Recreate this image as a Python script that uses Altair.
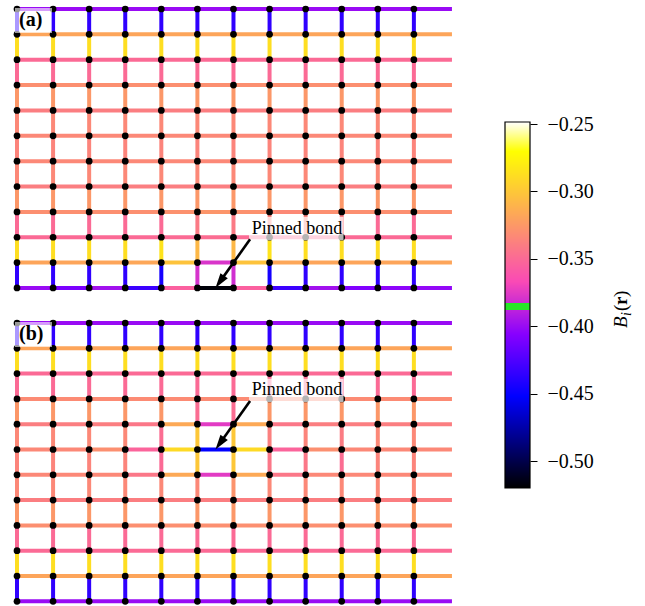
import altair as alt
import numpy as np
import pandas as pd

# ---------------------------------------------------------------------------
# Bond strengths B_i(r) on a 12 x 12 lattice (rows counted from the top).
# H[r][c]: horizontal bond from site (c, r) to (c+1, r); c = 11 wraps to column 12.
# V[r][c]: vertical bond from site (c, r) to (c, r+1).
# ---------------------------------------------------------------------------
H_A = [
    [-0.400, -0.400, -0.400, -0.400, -0.400, -0.400, -0.400, -0.400, -0.400, -0.400, -0.400, -0.400],
    [-0.318, -0.318, -0.318, -0.318, -0.318, -0.318, -0.318, -0.318, -0.318, -0.318, -0.318, -0.318],
    [-0.350, -0.350, -0.350, -0.350, -0.350, -0.350, -0.350, -0.350, -0.350, -0.350, -0.350, -0.350],
    [-0.330, -0.330, -0.330, -0.330, -0.330, -0.330, -0.330, -0.330, -0.330, -0.330, -0.330, -0.330],
    [-0.339, -0.339, -0.339, -0.339, -0.339, -0.339, -0.339, -0.339, -0.339, -0.339, -0.339, -0.339],
    [-0.334, -0.334, -0.334, -0.334, -0.334, -0.334, -0.334, -0.334, -0.334, -0.334, -0.334, -0.334],
    [-0.334, -0.334, -0.334, -0.334, -0.334, -0.334, -0.334, -0.334, -0.334, -0.334, -0.334, -0.334],
    [-0.339, -0.339, -0.339, -0.339, -0.339, -0.339, -0.339, -0.339, -0.339, -0.339, -0.339, -0.339],
    [-0.330, -0.330, -0.330, -0.330, -0.329, -0.327, -0.329, -0.333, -0.330, -0.330, -0.330, -0.330],
    [-0.350, -0.350, -0.350, -0.350, -0.349, -0.348, -0.349, -0.350, -0.350, -0.350, -0.350, -0.350],
    [-0.318, -0.318, -0.318, -0.317, -0.302, -0.378, -0.302, -0.317, -0.318, -0.318, -0.318, -0.318],
    [-0.400, -0.410, -0.397, -0.432, -0.355, -0.518, -0.355, -0.432, -0.397, -0.408, -0.404, -0.402],
]
V_A = [
    [-0.436, -0.436, -0.436, -0.436, -0.436, -0.436, -0.436, -0.436, -0.436, -0.436, -0.436, -0.436],
    [-0.288, -0.288, -0.288, -0.288, -0.288, -0.288, -0.288, -0.288, -0.288, -0.288, -0.288, -0.288],
    [-0.350, -0.350, -0.350, -0.350, -0.350, -0.350, -0.350, -0.350, -0.350, -0.350, -0.350, -0.350],
    [-0.326, -0.326, -0.326, -0.326, -0.326, -0.326, -0.326, -0.326, -0.326, -0.326, -0.326, -0.326],
    [-0.334, -0.334, -0.334, -0.334, -0.334, -0.334, -0.334, -0.334, -0.334, -0.334, -0.334, -0.334],
    [-0.336, -0.336, -0.336, -0.336, -0.336, -0.336, -0.336, -0.336, -0.336, -0.336, -0.336, -0.336],
    [-0.334, -0.334, -0.334, -0.334, -0.334, -0.334, -0.334, -0.334, -0.334, -0.334, -0.334, -0.334],
    [-0.326, -0.326, -0.326, -0.326, -0.326, -0.326, -0.326, -0.326, -0.326, -0.326, -0.326, -0.326],
    [-0.350, -0.350, -0.350, -0.350, -0.350, -0.341, -0.341, -0.337, -0.337, -0.340, -0.350, -0.350],
    [-0.288, -0.288, -0.288, -0.288, -0.285, -0.308, -0.308, -0.285, -0.288, -0.288, -0.288, -0.288],
    [-0.436, -0.436, -0.436, -0.436, -0.445, -0.379, -0.381, -0.445, -0.436, -0.436, -0.436, -0.436],
]
H_B = [
    [-0.400, -0.400, -0.400, -0.400, -0.400, -0.400, -0.400, -0.400, -0.400, -0.400, -0.400, -0.400],
    [-0.318, -0.318, -0.318, -0.318, -0.318, -0.318, -0.318, -0.318, -0.318, -0.318, -0.318, -0.318],
    [-0.350, -0.350, -0.350, -0.350, -0.350, -0.350, -0.350, -0.350, -0.350, -0.350, -0.350, -0.350],
    [-0.332, -0.332, -0.332, -0.332, -0.332, -0.332, -0.332, -0.332, -0.332, -0.332, -0.332, -0.332],
    [-0.339, -0.339, -0.339, -0.343, -0.316, -0.375, -0.316, -0.343, -0.339, -0.339, -0.339, -0.339],
    [-0.334, -0.334, -0.330, -0.353, -0.290, -0.452, -0.290, -0.353, -0.330, -0.334, -0.334, -0.334],
    [-0.334, -0.334, -0.334, -0.343, -0.316, -0.375, -0.316, -0.343, -0.334, -0.334, -0.334, -0.334],
    [-0.339, -0.339, -0.339, -0.339, -0.339, -0.339, -0.339, -0.339, -0.339, -0.339, -0.339, -0.339],
    [-0.330, -0.330, -0.330, -0.330, -0.330, -0.330, -0.330, -0.330, -0.330, -0.330, -0.330, -0.330],
    [-0.350, -0.350, -0.350, -0.350, -0.350, -0.350, -0.350, -0.350, -0.350, -0.350, -0.350, -0.350],
    [-0.318, -0.318, -0.318, -0.318, -0.318, -0.318, -0.318, -0.318, -0.318, -0.318, -0.318, -0.318],
    [-0.400, -0.400, -0.400, -0.400, -0.400, -0.400, -0.400, -0.400, -0.400, -0.400, -0.400, -0.400],
]
V_B = [
    [-0.436, -0.436, -0.436, -0.436, -0.436, -0.436, -0.436, -0.436, -0.436, -0.436, -0.436, -0.436],
    [-0.288, -0.288, -0.288, -0.288, -0.288, -0.288, -0.288, -0.288, -0.288, -0.288, -0.288, -0.288],
    [-0.350, -0.350, -0.350, -0.350, -0.350, -0.350, -0.350, -0.350, -0.350, -0.350, -0.350, -0.350],
    [-0.326, -0.326, -0.326, -0.326, -0.326, -0.348, -0.348, -0.326, -0.326, -0.326, -0.326, -0.326],
    [-0.334, -0.334, -0.334, -0.334, -0.348, -0.300, -0.300, -0.338, -0.336, -0.340, -0.334, -0.334],
    [-0.336, -0.336, -0.336, -0.336, -0.350, -0.300, -0.300, -0.343, -0.343, -0.348, -0.336, -0.336],
    [-0.334, -0.334, -0.334, -0.334, -0.334, -0.334, -0.328, -0.334, -0.334, -0.334, -0.334, -0.334],
    [-0.326, -0.326, -0.326, -0.326, -0.326, -0.326, -0.326, -0.326, -0.326, -0.326, -0.326, -0.326],
    [-0.350, -0.350, -0.350, -0.350, -0.350, -0.350, -0.350, -0.350, -0.350, -0.350, -0.350, -0.350],
    [-0.288, -0.288, -0.288, -0.288, -0.288, -0.288, -0.288, -0.288, -0.288, -0.288, -0.288, -0.288],
    [-0.436, -0.436, -0.436, -0.436, -0.436, -0.436, -0.436, -0.436, -0.436, -0.436, -0.436, -0.436],
]

PINNED_A = (5.5, 11)      # centre of the pinned bond, panel (a)
PINNED_B = (5.5, 5)       # centre of the pinned bond, panel (b)
PANEL_LABELS = ["(a)", "(b)"]
NOTE = "Pinned bond"

CBAR_TICKS = [-0.25, -0.30, -0.35, -0.40, -0.45, -0.50]
VMIN, VMAX = -0.520, -0.2485
GREEN_BAND = (-0.3880, -0.3828)   # marked level on the colour map
GREEN = "#28e628"

SERIF = "Liberation Serif, Times New Roman, Times, serif"

# ---------------------------------------------------------------------------
# gnuplot2 colour map as a piecewise-linear scale, with a green marker band
# ---------------------------------------------------------------------------
def gnuplot2(t):
    r = min(max(t / 0.32 - 0.78125, 0.0), 1.0)
    g = min(max(2 * t - 0.84, 0.0), 1.0)
    if t < 0.25:
        b = 4 * t
    elif t < 0.42:
        b = 1.0
    elif t < 0.92:
        b = -2 * t + 1.84
    else:
        b = t / 0.08 - 11.5
    b = min(max(b, 0.0), 1.0)
    return "#%02x%02x%02x" % tuple(int(round(255 * u)) for u in (r, g, b))


def to_val(t):
    return VMIN + t * (VMAX - VMIN)


def to_frac(v):
    return (v - VMIN) / (VMAX - VMIN)


t_lo, t_hi = to_frac(GREEN_BAND[0]), to_frac(GREEN_BAND[1])
cdom, crng = [], []
for t in [0.0, 0.24414, 0.25, 0.42, t_lo]:
    cdom.append(float(to_val(t)))
    crng.append(gnuplot2(t))
cdom += [GREEN_BAND[0] + 1e-5, GREEN_BAND[1] - 1e-5]
crng += [GREEN, GREEN]
for t in [t_hi, 0.56414, 0.92, 1.0]:
    cdom.append(float(to_val(t)))
    crng.append(gnuplot2(t))


def color_scale():
    return alt.Scale(domain=cdom, range=crng, interpolate="rgb")


# ---------------------------------------------------------------------------
# lattice panels
# ---------------------------------------------------------------------------
PXC = 36.08                 # pixels per lattice column
X_LEFT = 17.0               # pixel of column 0
PANEL_W = 457


def bonds_frame(H, V):
    rows = []
    for r, vals in enumerate(H):
        for c, b in enumerate(vals):
            rows.append(dict(x=c, x2=c + 1, y=r, y2=r, B=b))
    for r, vals in enumerate(V):
        for c, b in enumerate(vals):
            rows.append(dict(x=c, x2=c, y=r, y2=r + 1, B=b))
    return pd.DataFrame(rows)


def panel(H, V, pinned, label, height, pxr, y_top):
    xs = alt.Scale(domain=[-X_LEFT / PXC, (PANEL_W - X_LEFT) / PXC], nice=False, zero=False)
    ys = alt.Scale(domain=[-y_top / pxr, (height - y_top) / pxr], nice=False, zero=False,
                   reverse=True)

    bonds = alt.Chart(bonds_frame(H, V)).mark_rule(strokeWidth=4, strokeCap="square").encode(
        x=alt.X("x:Q", scale=xs, axis=None), x2="x2:Q",
        y=alt.Y("y:Q", scale=ys, axis=None), y2="y2:Q",
        color=alt.Color("B:Q", scale=color_scale(), legend=None),
    )

    sites_df = pd.DataFrame([dict(x=c, y=r) for r in range(len(H)) for c in range(len(H[0]))])
    sites = alt.Chart(sites_df).mark_circle(size=45, color="black", opacity=1).encode(
        x=alt.X("x:Q", scale=xs, axis=None), y=alt.Y("y:Q", scale=ys, axis=None))

    lab_df = pd.DataFrame({"s": [label]})
    lab_box = alt.Chart(lab_df).mark_rect(color="white", opacity=0.6).encode(
        x=alt.value(15), x2=alt.value(52), y=alt.value(8), y2=alt.value(33))
    lab_txt = alt.Chart(lab_df).mark_text(
        font=SERIF, fontWeight="bold", fontSize=20, align="left", baseline="alphabetic",
        color="black").encode(x=alt.value(19), y=alt.value(26), text="s:N")

    # annotation with an arrow pointing at the pinned bond
    px, py = pinned
    tail = (px + 0.96, py - 1.92)
    ddx, ddy = (tail[0] - px) * PXC, (tail[1] - py) * pxr
    length = float(np.hypot(ddx, ddy))
    head_back = 9.0 / length
    ann = pd.DataFrame([dict(
        tx=px + 2.26, ty=py - 2.14, s=NOTE,
        bx1=px + 0.93, bx2=px + 3.55, by1=py - 2.80, by2=py - 1.88,
        ax=tail[0], ay=tail[1],
        ex=px + (tail[0] - px) * head_back, ey=py + (tail[1] - py) * head_back,
        hx=px, hy=py,
    )])
    note_box = alt.Chart(ann).mark_rect(color="white", opacity=0.7).encode(
        x=alt.X("bx1:Q", scale=xs, axis=None), x2="bx2:Q",
        y=alt.Y("by1:Q", scale=ys, axis=None), y2="by2:Q")
    note_txt = alt.Chart(ann).mark_text(
        font=SERIF, fontSize=18, align="center", baseline="alphabetic", color="black").encode(
        x=alt.X("tx:Q", scale=xs, axis=None), y=alt.Y("ty:Q", scale=ys, axis=None), text="s:N")
    shaft = alt.Chart(ann).mark_rule(color="black", strokeWidth=2.6).encode(
        x=alt.X("ax:Q", scale=xs, axis=None), x2="ex:Q",
        y=alt.Y("ay:Q", scale=ys, axis=None), y2="ey:Q")
    # heading of the arrow, clockwise from "up", in screen pixels
    ang = float(np.degrees(np.arctan2(-ddx, ddy)) % 360)
    head = alt.Chart(ann).mark_point(
        shape="M0,0L0.3,1L-0.3,1Z", filled=True, size=900, angle=ang,
        color="black", opacity=1, strokeWidth=0).encode(
        x=alt.X("hx:Q", scale=xs, axis=None), y=alt.Y("hy:Q", scale=ys, axis=None))

    return alt.layer(bonds, sites, lab_box, lab_txt, note_box, note_txt, shaft, head).properties(
        width=PANEL_W, height=height)


panel_a = panel(H_A, V_A, PINNED_A, PANEL_LABELS[0], height=297, pxr=25.36, y_top=9.0)
panel_b = panel(H_B, V_B, PINNED_B, PANEL_LABELS[1], height=292, pxr=25.30, y_top=9.0)

# ---------------------------------------------------------------------------
# colour bar
# ---------------------------------------------------------------------------
CB_H = 606
CB_W = 25
CB_TOP, CB_BOT = 122.0, 488.0
pxv = (CB_BOT - CB_TOP) / (VMAX - VMIN)
cby = alt.Scale(domain=[VMIN - (CB_H - CB_BOT) / pxv, VMAX + CB_TOP / pxv], nice=False, zero=False)

levels = np.linspace(VMIN, VMAX, 367)
step = levels[1] - levels[0]
strip = pd.DataFrame({
    "lo": levels[:-1],
    "hi": np.minimum(levels[1:] + 0.6 * step, VMAX),
    "mid": 0.5 * (levels[:-1] + levels[1:]),
})

cb_axis = alt.Axis(orient="right", values=CBAR_TICKS, format=".2f", tickSize=7, tickWidth=1,
                   tickColor="black", domain=False, grid=False, labelFont=SERIF,
                   labelFontSize=20, labelColor="black", labelPadding=10, title=None,
                   labelFlush=False, labelOverlap=False)

bar = alt.Chart(strip).mark_rect(strokeWidth=0).encode(
    x=alt.value(0), x2=alt.value(CB_W),
    y=alt.Y("lo:Q", scale=cby, axis=cb_axis), y2="hi:Q",
    color=alt.Color("mid:Q", scale=color_scale(), legend=None))

frame = alt.Chart(pd.DataFrame({"lo": [VMIN], "hi": [VMAX]})).mark_rect(
    fillOpacity=0, stroke="black", strokeWidth=1.2).encode(
    x=alt.value(0), x2=alt.value(CB_W),
    y=alt.Y("lo:Q", scale=cby, axis=cb_axis), y2="hi:Q")

# colour-bar title B_i(r), written bottom to top
title_parts = [
    ("B", 122, 328, 19, "italic", "normal"),
    ("i", 126, 316, 14, "italic", "normal"),
    ("(", 122, 311, 19, "normal", "normal"),
    ("r", 122, 305, 19, "normal", "bold"),
    (")", 122, 297, 19, "normal", "normal"),
]
title_layers = []
for s, tx, ty, fs, style, weight in title_parts:
    title_layers.append(
        alt.Chart(pd.DataFrame({"s": [s]})).mark_text(
            font=SERIF, fontSize=fs, fontStyle=style, fontWeight=weight, angle=270,
            align="left", baseline="alphabetic", color="black").encode(
            x=alt.value(tx), y=alt.value(ty), text="s:N"))

cbar = alt.layer(bar, frame, *title_layers).properties(width=CB_W, height=CB_H)

left = alt.vconcat(panel_a, panel_b, spacing=17).resolve_scale(color="independent")
chart = (
    alt.hconcat(left, cbar, spacing=47)
    .resolve_scale(color="independent")
    .properties(padding=0, background="white")
    .configure_view(stroke=None)
)

chart.save("out.html", embed_options={"renderer": "svg", "actions": False})
